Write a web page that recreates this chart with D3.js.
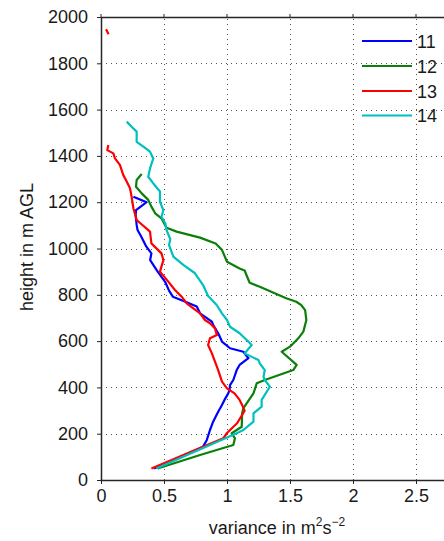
<!DOCTYPE html>
<html>
<head>
<meta charset="utf-8">
<script src="https://cdn.jsdelivr.net/npm/d3@7/dist/d3.min.js"></script>
<style>
  html, body { margin: 0; padding: 0; background: #fff; }
  svg { display: block; font-family: "Liberation Sans", Arial, sans-serif; }
</style>
</head>
<body>
<svg id="chart" width="444" height="541"></svg>
<script>
// Variance profiles: [variance (m^2 s^-2), height (m AGL)]
const series11 = [[0.42,50],[0.81,144],[0.84,173],[0.865,216],[0.89,252],[0.93,295],[0.96,324],[0.98,346],[1.01,374],[1.02,389],[1.024,410],[1.05,432],[1.077,475],[1.10,497],[1.17,526],[1.13,554],[1.024,569],[0.96,598],[0.93,634],[0.89,670],[0.88,684],[0.786,720],[0.76,749],[0.67,770],[0.57,792],[0.54,818],[0.51,855],[0.45,900],[0.39,950],[0.40,979],[0.36,1008],[0.32,1051],[0.29,1080],[0.283,1102],[0.275,1145],[0.278,1166],[0.362,1200],[0.257,1224]];
const series12 = [[0.45,50],[0.786,108],[1.05,151],[1.063,180],[1.037,202],[1.117,230],[1.12,288],[1.13,310],[1.156,331],[1.21,374],[1.236,418],[1.30,432],[1.526,475],[1.553,497],[1.434,554],[1.50,576],[1.566,612],[1.606,641],[1.63,691],[1.62,734],[1.59,755],[1.55,770],[1.47,785],[1.26,835],[1.18,852],[1.16,878],[1.14,905],[1.10,914],[1.0,943],[0.96,994],[0.91,1022],[0.786,1047],[0.60,1073],[0.52,1090],[0.48,1130],[0.43,1152],[0.40,1181],[0.375,1210],[0.323,1238],[0.278,1267],[0.283,1296],[0.323,1322]];
const series13 = [[0.40,50],[0.97,180],[1.0,203],[1.08,245],[1.14,299],[1.12,324],[1.10,346],[1.06,374],[1.0,396],[0.96,425],[0.93,475],[0.88,547],[0.85,583],[0.865,612],[0.92,626],[0.905,655],[0.865,677],[0.825,691],[0.786,720],[0.68,763],[0.64,792],[0.587,821],[0.534,857],[0.468,900],[0.495,950],[0.48,979],[0.40,1022],[0.389,1073],[0.283,1123],[0.257,1174],[0.243,1224],[0.23,1260],[0.204,1289],[0.177,1317],[0.15,1361],[0.111,1389],[0.098,1411],[0.05,1425],[0.058,1447],[null,1700],[0.06,1925],[0.04,1947]];
const series14 = [[0.44,50],[1.077,202],[1.13,216],[1.21,252],[1.21,288],[1.275,317],[1.275,346],[1.34,403],[1.30,432],[1.29,446],[1.30,475],[1.26,504],[1.25,518],[1.14,547],[1.196,583],[1.156,605],[1.10,634],[1.024,662],[1.0,691],[0.96,720],[0.918,756],[0.85,795],[0.81,842],[0.746,893],[0.653,929],[0.574,965],[0.54,1015],[0.55,1040],[0.52,1080],[0.51,1109],[0.48,1137],[0.495,1166],[0.468,1202],[0.468,1246],[0.415,1281],[0.375,1310],[0.389,1346],[0.415,1389],[0.389,1418],[0.336,1440],[0.283,1461],[0.283,1505],[0.243,1526],[0.204,1548]];

const seriesNames = ["11", "12", "13", "14"];
const seriesColors = ["#0000ff", "#0a800a", "#ff0000", "#00bfbf"];
const xTicks = [0, 0.5, 1, 1.5, 2, 2.5];
const yTicks = [0, 200, 400, 600, 800, 1000, 1200, 1400, 1600, 1800, 2000];

const allSeries = [series11, series12, series13, series14];

const svg = d3.select("#chart");
const plotLeft = 101, plotTop = 17, plotBottom = 480, plotRight = 444;
const x = d3.scaleLinear().domain([0, 2.75]).range([plotLeft, plotLeft + 2.75 * 126]);
const y = d3.scaleLinear().domain([0, 2000]).range([plotBottom, plotTop]);
const fontFamily = "'Liberation Sans', Arial, sans-serif";

// dotted grid
const grid = svg.append("g").attr("stroke", "#555").attr("stroke-width", 1)
  .attr("stroke-dasharray", "1,4");
grid.selectAll("line.vx").data(xTicks.filter(d => d > 0)).join("line")
  .attr("x1", d => Math.round(x(d)) + 0.5).attr("x2", d => Math.round(x(d)) + 0.5)
  .attr("y1", plotBottom).attr("y2", plotTop);
grid.selectAll("line.hy").data(yTicks.filter(d => d > 0 && d < 2000)).join("line")
  .attr("y1", d => Math.round(y(d)) + 0.5).attr("y2", d => Math.round(y(d)) + 0.5)
  .attr("x1", plotLeft).attr("x2", plotRight);

// profiles
svg.append("defs").append("clipPath").attr("id", "plotclip")
  .append("rect").attr("x", plotLeft).attr("y", plotTop)
  .attr("width", plotRight - plotLeft).attr("height", plotBottom - plotTop);
const line = d3.line()
  .defined(d => d[0] !== null)
  .x(d => x(d[0])).y(d => y(d[1]));
svg.append("g").attr("clip-path", "url(#plotclip)")
  .selectAll("path").data(allSeries).join("path")
  .attr("d", line)
  .attr("fill", "none")
  .attr("stroke", (d, i) => seriesColors[i])
  .attr("stroke-width", 2.2)
  .attr("stroke-linejoin", "round");

// axes
const axisColor = "#262626";
const xAxis = svg.append("g").attr("transform", `translate(0,${plotBottom})`)
  .call(d3.axisBottom(x).tickValues(xTicks).tickFormat(d3.format("~g")).tickSize(4).tickPadding(5));
const yAxis = svg.append("g").attr("transform", `translate(${plotLeft},0)`)
  .call(d3.axisLeft(y).tickValues(yTicks).tickFormat(d3.format("d")).tickSize(4).tickPadding(9));
[xAxis, yAxis].forEach(a => {
  a.select(".domain").remove();
  a.selectAll("line").attr("stroke", axisColor);
  a.selectAll("text").attr("fill", "#1a1a1a").style("font-size", "18px")
    .style("font-family", fontFamily);
});
svg.append("line").attr("x1", plotLeft - 0.5).attr("x2", plotRight)
  .attr("y1", plotBottom + 0.5).attr("y2", plotBottom + 0.5)
  .attr("stroke", axisColor).attr("stroke-width", 1.5);
svg.append("line").attr("x1", plotLeft + 0.5).attr("x2", plotLeft + 0.5)
  .attr("y1", plotTop).attr("y2", plotBottom + 1)
  .attr("stroke", axisColor).attr("stroke-width", 1.5);
svg.append("line").attr("x1", plotLeft).attr("x2", plotRight)
  .attr("y1", plotTop + 0.5).attr("y2", plotTop + 0.5)
  .attr("stroke", axisColor).attr("stroke-width", 1.5);
svg.append("g").selectAll("line").data(xTicks).join("line")
  .attr("x1", d => x(d)).attr("x2", d => x(d)).attr("y1", plotTop - 3).attr("y2", plotTop + 1)
  .attr("stroke", axisColor);

// axis titles
svg.append("text").attr("x", 277).attr("y", 534).attr("text-anchor", "middle")
  .style("font-size", "18px").style("font-family", fontFamily).attr("fill", "#1a1a1a")
  .call(t => {
    t.append("tspan").text("variance in m");
    t.append("tspan").text("2").attr("dy", -8).style("font-size", "12px");
    t.append("tspan").text("s").attr("dy", 8);
    t.append("tspan").text("\u22122").attr("dy", -8).style("font-size", "12px");
  });
svg.append("text").attr("transform", "translate(33,247) rotate(-90)")
  .attr("text-anchor", "middle").style("font-size", "18px").style("font-family", fontFamily)
  .attr("fill", "#1a1a1a")
  .text("height in m AGL");

// legend
const legend = svg.append("g");
const legendY = [41, 66, 91, 115.5];
seriesNames.forEach((name, i) => {
  legend.append("line").attr("x1", 362).attr("x2", 412)
    .attr("y1", legendY[i]).attr("y2", legendY[i])
    .attr("stroke", seriesColors[i]).attr("stroke-width", 2.2);
  legend.append("text").attr("x", 417).attr("y", legendY[i] + 6.5)
    .style("font-size", "18px").style("font-family", fontFamily)
    .attr("fill", "#1a1a1a").text(name);
});
</script>
</body>
</html>
